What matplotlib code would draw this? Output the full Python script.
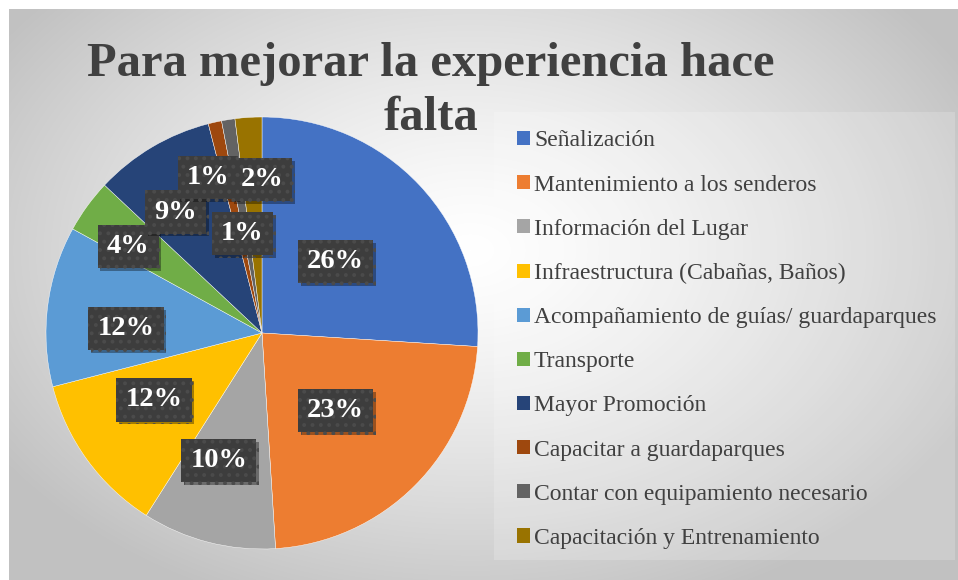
import numpy as np
import matplotlib
matplotlib.use("Agg")
import matplotlib.pyplot as plt
import matplotlib.patheffects as pe
from matplotlib.patches import Patch, Rectangle

plt.rcParams['font.family'] = ['Liberation Serif', 'DejaVu Serif']
plt.rcParams['hatch.linewidth'] = 1.6

# datos de la encuesta
categorias = [
    'Señalización',
    'Mantenimiento a los senderos',
    'Información del Lugar',
    'Infraestructura (Cabañas, Baños)',
    'Acompañamiento de guías/ guardaparques',
    'Transporte',
    'Mayor Promoción',
    'Capacitar a guardaparques',
    'Contar con equipamiento necesario',
    'Capacitación y Entrenamiento',
]
porcentajes = [26, 23, 10, 12, 12, 4, 9, 1, 1, 2]
colores = ['#4472C4', '#ED7D31', '#A5A5A5', '#FFC000', '#5B9BD5',
           '#70AD47', '#264478', '#9E480E', '#636363', '#997300']
# posicion de cada etiqueta (en radios del pastel)
pos_etiquetas = [(0.34, 0.33), (0.34, -0.36), (-0.20, -0.59), (-0.50, -0.31),
                 (-0.63, 0.02), (-0.62, 0.40), (-0.40, 0.56), (-0.25, 0.72),
                 (-0.09, 0.46), (0.0, 0.71)]

W, H = 958, 580
fig = plt.figure(figsize=(W / 100, H / 100), dpi=100)
fig.patch.set_facecolor('white')

# fondo con degradado radial
bg = fig.add_axes([0, 0, 1, 1])
bg.set_xlim(0, W)
bg.set_ylim(H, 0)
bg.axis('off')
yy, xx = np.mgrid[9:H, 9:W]
d = np.sqrt(((xx - 470) / 560.0) ** 2 + ((yy - 250) / 380.0) ** 2)
val = 1.0 - 0.24 * np.clip(d, 0, 1) ** 1.3
img = np.dstack([val, val, val])
bg.imshow(img, extent=[9, W, H, 9], aspect='auto', interpolation='bilinear')
bg.add_patch(Rectangle((494, 112), 461, 448, facecolor='white', alpha=0.18,
                       edgecolor='none'))

# titulo
bg.text(431, 76, 'Para mejorar la experiencia hace', ha='center', va='baseline',
        fontsize=35, fontweight='bold', color='#404040')
bg.text(431, 130, 'falta', ha='center', va='baseline',
        fontsize=35, fontweight='bold', color='#404040')

# pastel
cx, cy, r = 262, 333, 216
ax = fig.add_axes([(cx - r) / W, (H - cy - r) / H, 2 * r / W, 2 * r / H])
ax.axis('off')
ax.pie(porcentajes, colors=colores, startangle=90, counterclock=False,
       radius=1, wedgeprops=dict(edgecolor='white', linewidth=0.3))
ax.set_xlim(-1, 1)
ax.set_ylim(-1, 1)

for p, (x, y) in zip(porcentajes, pos_etiquetas):
    t = ax.text(x, y, f'{p}%', ha='center', va='center', fontsize=20.5,
                fontweight='bold', color='white',
                bbox=dict(boxstyle='square,pad=0.32', facecolor='#3d3d3d',
                          edgecolor='#4b4b4b', hatch='..', linewidth=0))
    t.get_bbox_patch().set_path_effects([
        pe.SimplePatchShadow(offset=(2, -2), shadow_rgbFace='black', alpha=0.35),
        pe.Normal()])

# leyenda
handles = [Patch(facecolor=c, edgecolor='none') for c in colores]
leg = fig.legend(handles, categorias, loc='upper left',
                 bbox_to_anchor=(508 / W, 1 - 121 / H), frameon=False,
                 fontsize=17, labelcolor='#404040', handlelength=0.55,
                 handleheight=0.55, handletextpad=0.15, labelspacing=0.98,
                 borderaxespad=0)

fig.savefig('out.png', dpi=100)
